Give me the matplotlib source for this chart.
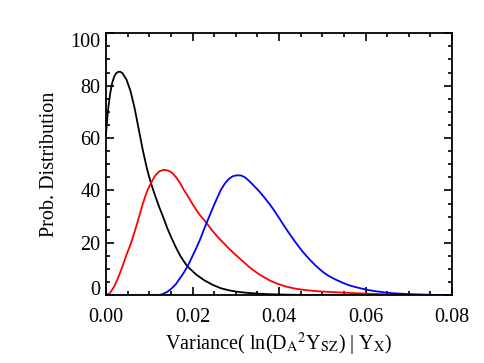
import matplotlib
matplotlib.use('Agg')
import matplotlib.pyplot as plt
from matplotlib.ticker import MultipleLocator, FormatStrFormatter

# 曲线点
x_black = [0.0, 0.00047, 0.00095, 0.00142, 0.0019, 0.00237, 0.00284, 0.00332, 0.00379,
           0.00474, 0.00569, 0.00664, 0.00758, 0.00853, 0.00948, 0.01043, 0.01138, 0.01232,
           0.01327, 0.01422, 0.01517, 0.01612, 0.01706, 0.01801, 0.01896, 0.02086, 0.02275,
           0.02465, 0.02654, 0.02844, 0.03034, 0.03223, 0.03413, 0.03602, 0.03792, 0.04171,
           0.0455, 0.05214, 0.06162, 0.08]
y_black = [61.8, 70.9, 76.9, 81.0, 83.5, 84.8, 85.3, 85.3, 84.8,
           82.3, 77.8, 71.2, 63.2, 55.2, 48.2, 42.6, 37.9, 33.6,
           29.6, 25.4, 21.8, 18.4, 15.4, 12.9, 10.8, 7.9, 5.7,
           4.0, 2.7, 1.9, 1.35, 1.0, 0.75, 0.55, 0.4, 0.25,
           0.15, 0.07, 0.02, 0.0]

x_red = [0.0, 0.00095, 0.0019, 0.00284, 0.00379, 0.00474, 0.00569, 0.00664, 0.00758, 0.00853,
         0.00948, 0.01043, 0.01138, 0.01232, 0.01327, 0.01422, 0.01517, 0.01612, 0.01706, 0.01801,
         0.01896, 0.01991, 0.02086, 0.0218, 0.02275, 0.0237, 0.02465, 0.0256, 0.02654, 0.02749,
         0.02844, 0.02939, 0.03034, 0.03128, 0.03223, 0.03318, 0.03413, 0.03508, 0.03602, 0.03792,
         0.03982, 0.04171, 0.04361, 0.0455, 0.0474, 0.0493, 0.05214, 0.05498, 0.05783, 0.06067,
         0.06446, 0.06826, 0.07205, 0.07584, 0.08]
y_red = [0.0, 0.9, 3.4, 6.9, 11.0, 15.5, 19.5, 24.4, 29.6, 35.1,
         39.7, 43.0, 45.7, 47.3, 47.9, 47.7, 46.9, 45.2, 43.0, 40.2,
         37.7, 35.1, 32.6, 30.4, 28.6, 26.6, 24.5, 22.7, 21.0, 19.4,
         17.8, 16.3, 14.9, 13.5, 12.1, 10.7, 9.5, 8.4, 7.4, 5.6,
         4.3, 3.3, 2.6, 2.1, 1.8, 1.5, 1.25, 1.0, 0.8, 0.6,
         0.4, 0.25, 0.15, 0.1, 0.05]

x_blue = [0.0, 0.00758, 0.00948, 0.01138, 0.01232, 0.01327, 0.01422, 0.01517, 0.01612, 0.01706,
          0.01801, 0.01896, 0.01991, 0.02086, 0.0218, 0.02275, 0.0237, 0.02465, 0.0256, 0.02654,
          0.02749, 0.02844, 0.02939, 0.03034, 0.03128, 0.03223, 0.03318, 0.03413, 0.03508, 0.03602,
          0.03697, 0.03792, 0.03887, 0.03982, 0.04076, 0.04171, 0.04266, 0.04361, 0.04456, 0.0455,
          0.04645, 0.0474, 0.04835, 0.0493, 0.05024, 0.05119, 0.05214, 0.05309, 0.05404, 0.05498,
          0.05593, 0.05688, 0.05878, 0.06067, 0.06257, 0.06446, 0.06636, 0.06826, 0.07015, 0.07205,
          0.07394, 0.07584, 0.08]
y_blue = [0.0, 0.0, 0.0, 0.0, 0.1, 0.6, 1.4, 2.6, 4.2, 6.4,
          8.7, 11.4, 14.7, 18.0, 21.5, 25.6, 29.4, 33.2, 36.8, 40.2,
          42.7, 44.5, 45.5, 45.8, 45.7, 44.9, 43.5, 41.9, 40.3, 38.5,
          36.6, 34.6, 32.4, 30.0, 27.6, 25.2, 22.9, 20.7, 18.6, 16.6,
          14.8, 13.1, 11.5, 10.1, 8.8, 7.7, 6.8, 6.0, 5.3, 4.6,
          4.0, 3.5, 2.7, 2.0, 1.5, 1.1, 0.8, 0.6, 0.45, 0.35,
          0.25, 0.15, 0.1]

y_ticks = [0, 20, 40, 60, 80, 100]

plt.rcParams['font.family'] = ['Liberation Serif', 'DejaVu Serif']
plt.rcParams['mathtext.fontset'] = 'stix'

fig = plt.figure(figsize=(4.85, 3.63), dpi=100)
ax = fig.add_axes([0.2186, 0.1865, 0.7134, 0.7218])

ax.plot(x_black, y_black, color='black', lw=1.3)
ax.plot(x_red, y_red, color='red', lw=1.3)
ax.plot(x_blue, y_blue, color='blue', lw=1.3)

ax.set_xlim(0, 0.08)
ax.set_ylim(0, 100)
ax.xaxis.set_major_locator(MultipleLocator(0.02))
ax.xaxis.set_minor_locator(MultipleLocator(0.005))
ax.set_yticks(y_ticks)
ax.yaxis.set_minor_locator(MultipleLocator(5))
ax.xaxis.set_major_formatter(FormatStrFormatter('%.2f'))

ax.tick_params(which='both', direction='in', top=True, right=True, labelsize=14.5, width=1.2)
ax.tick_params(which='major', length=6)
ax.tick_params(which='minor', length=3)
ax.tick_params(axis='x', which='major', pad=9)
ax.tick_params(axis='y', which='major', pad=4)
for s in ax.spines.values():
    s.set_linewidth(1.3)

# IDL 风格：两端的刻度标签不超出坐标框
ylabs = ax.get_yticklabels()
ylabs[0].set_verticalalignment('baseline')
ylabs[-1].set_verticalalignment('top')

ax.set_xlabel(r'Variance( ln(D$_\mathrm{A}$$^2$Y$_\mathrm{SZ}$) | Y$_\mathrm{X}$)', fontsize=14.5, labelpad=3)
ax.set_ylabel('Prob. Distribution', fontsize=14.5, labelpad=8)

fig.savefig('out.png', dpi=100)
